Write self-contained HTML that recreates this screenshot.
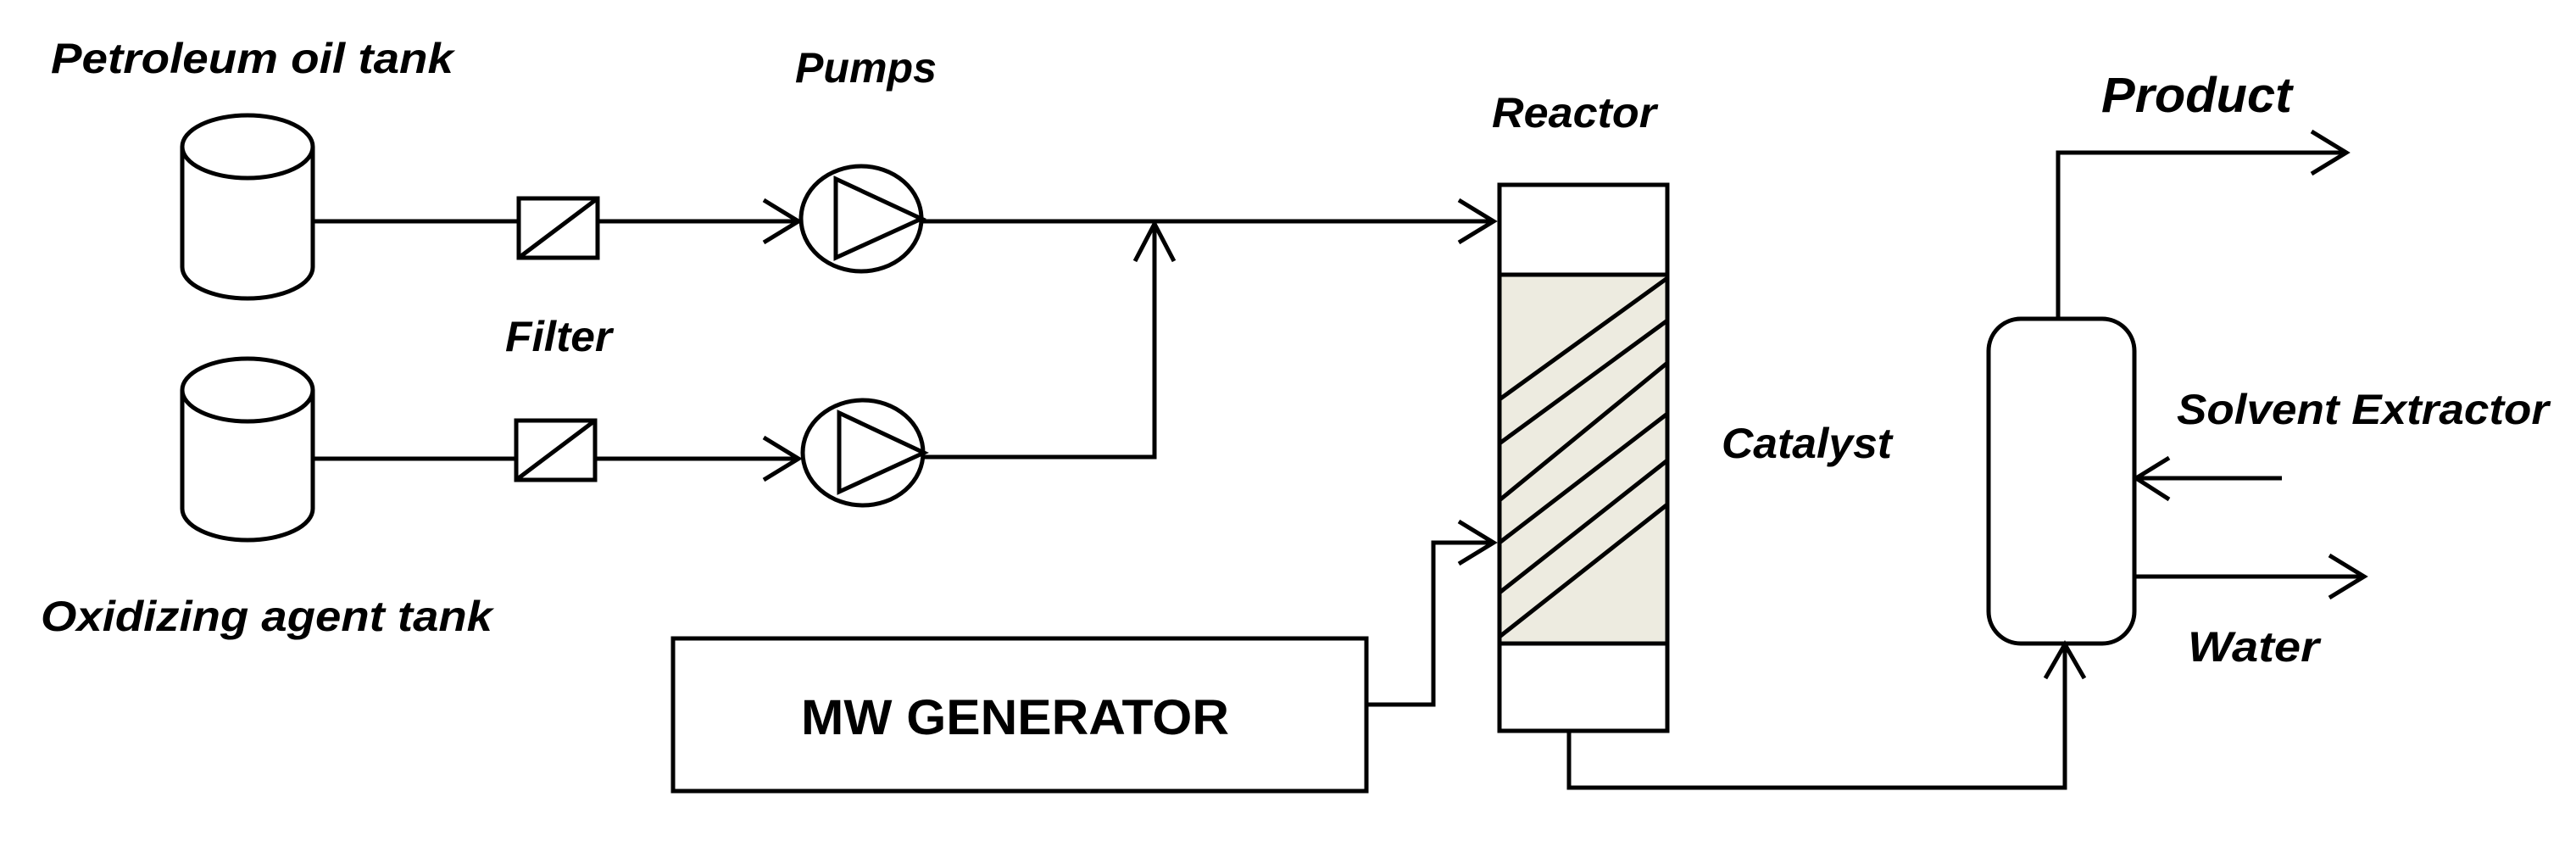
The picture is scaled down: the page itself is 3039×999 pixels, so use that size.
<!DOCTYPE html>
<html><head><meta charset="utf-8"><style>
html,body{margin:0;padding:0;background:#fff;width:3039px;height:999px;overflow:hidden}
text{font-family:"Liberation Sans",sans-serif;font-weight:bold;font-style:italic;fill:#000}
</style></head><body>
<svg width="3039" height="999" viewBox="0 0 3039 999" xmlns="http://www.w3.org/2000/svg">
<g fill="none" stroke="#000" stroke-width="5" stroke-linejoin="miter">
<path d="M215,173 V315 A77,37 0 0 0 369,315 V173"/>
<ellipse cx="292" cy="173" rx="77" ry="37" fill="#fff"/>
<path d="M215,460 V600 A77,37 0 0 0 369,600 V460"/>
<ellipse cx="292" cy="460" rx="77" ry="37" fill="#fff"/>
<path d="M369,261 H942"/>
<path d="M369,541 H942"/>
<rect x="612" y="234" width="93" height="70" fill="#fff"/>
<path d="M612,304 L705,234"/>
<rect x="609" y="496" width="93" height="70" fill="#fff"/>
<path d="M609,566 L702,496"/>
<path d="M901,236 L942,261 L901,286"/>
<path d="M901,516 L942,541 L901,566"/>
<ellipse cx="1016" cy="258" rx="71" ry="62"/>
<path d="M986,211 L1087,258 L986,304 Z"/>
<ellipse cx="1018" cy="534" rx="71" ry="62"/>
<path d="M990,487 L1090,534 L990,580 Z"/>
<path d="M1087,261 H1762"/>
<path d="M1090,539 H1362 V264"/>
<path d="M1339,308 L1362,264 L1385,308"/>
<path d="M1721,236 L1762,261 L1721,286"/>
<rect x="794" y="753" width="818" height="180"/>
<path d="M1612,831 H1691 V640 H1762"/>
<path d="M1721,615 L1762,640 L1721,665"/>
<rect x="1769" y="324" width="198" height="435" fill="#EDEBE0" stroke="none"/>
<rect x="1769" y="218" width="198" height="644"/>
<path d="M1769,324 H1967 M1769,759 H1967"/>
<path d="M1769,471 L1967,328 M1769,523 L1967,378 M1769,590 L1967,428 M1769,640 L1967,488 M1769,699 L1967,543 M1769,751 L1967,595"/>
<path d="M1851,862 V929 H2436 V760"/>
<path d="M2413,800 L2436,760 L2459,800"/>
<rect x="2346" y="376" width="172" height="383" rx="38" ry="38"/>
<path d="M2428,376 V180 H2768"/>
<path d="M2727,155 L2768,180 L2727,205"/>
<path d="M2692,564 H2520"/>
<path d="M2559,540 L2520,564 L2559,589"/>
<path d="M2518,680 H2789"/>
<path d="M2748,655 L2789,680 L2748,705"/>
</g>
<text x="60" y="86" font-size="50" textLength="475" lengthAdjust="spacingAndGlyphs">Petroleum  oil tank</text>
<text x="938" y="97" font-size="50" textLength="167" lengthAdjust="spacingAndGlyphs">Pumps</text>
<text x="596" y="414" font-size="50" textLength="126" lengthAdjust="spacingAndGlyphs">Filter</text>
<text x="48" y="744" font-size="50" textLength="533" lengthAdjust="spacingAndGlyphs">Oxidizing  agent  tank</text>
<text x="1760" y="150" font-size="50" textLength="194" lengthAdjust="spacingAndGlyphs">Reactor</text>
<text x="2479" y="132" font-size="58" textLength="225" lengthAdjust="spacingAndGlyphs">Product</text>
<text x="2031" y="540" font-size="50" textLength="201" lengthAdjust="spacingAndGlyphs">Catalyst</text>
<text x="2568" y="500" font-size="50" textLength="439" lengthAdjust="spacingAndGlyphs">Solvent  Extractor</text>
<text x="2581" y="780" font-size="50" textLength="155" lengthAdjust="spacingAndGlyphs">Water</text>
<text x="945" y="866" font-size="58" style="font-style:normal" textLength="505" lengthAdjust="spacingAndGlyphs">MW GENERATOR</text>
</svg>
</body></html>
